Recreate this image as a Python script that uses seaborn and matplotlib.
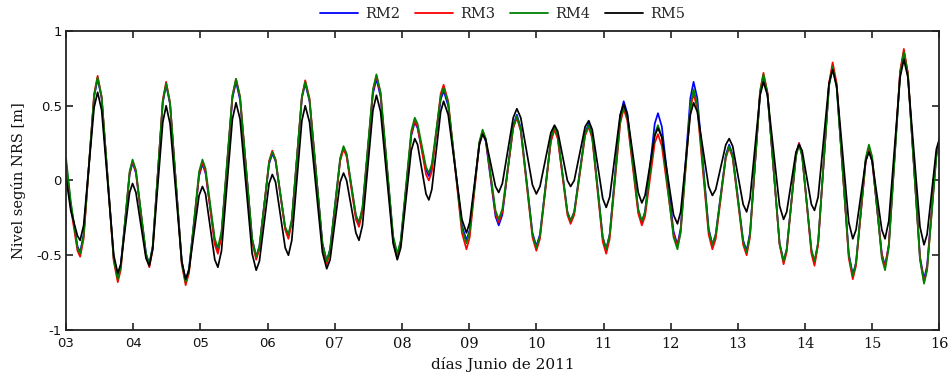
import numpy as np
import pandas as pd
import matplotlib
matplotlib.use("Agg")
import matplotlib.pyplot as plt
import seaborn as sns

# ---- data ----
dias = [
    3.00, 3.07, 3.17,
    3.21, 3.262, 3.418,
    3.47, 3.53, 3.71,
    3.77, 3.814, 3.946,
    3.99, 4.04, 4.19,
    4.24, 4.29, 4.44,
    4.49, 4.548, 4.722,
    4.78, 4.83, 4.98,
    5.03, 5.076, 5.214,
    5.26, 5.314, 5.476,
    5.53, 5.59, 5.77,
    5.83, 5.878, 6.022,
    6.07, 6.118, 6.262,
    6.31, 6.36, 6.51,
    6.56, 6.624, 6.816,
    6.88, 6.93, 7.08,
    7.13, 7.176, 7.314,
    7.36, 7.412, 7.568,
    7.62, 7.682, 7.868,
    7.93, 7.982, 8.138,
    8.19, 8.232, 8.358,
    8.40, 8.444, 8.576,
    8.62, 8.688, 8.892,
    8.96, 9.008, 9.152,
    9.20, 9.248, 9.392,
    9.44, 9.494, 9.656,
    9.71, 9.768, 9.942,
    10.00, 10.054, 10.216,
    10.27, 10.318, 10.462,
    10.51, 10.564, 10.726,
    10.78, 10.832, 10.988,
    11.04, 11.092, 11.248,
    11.30, 11.354, 11.516,
    11.57, 11.618, 11.762,
    11.81, 11.868, 12.042,
    12.10, 12.148, 12.292,
    12.34, 12.396, 12.564,
    12.62, 12.67, 12.82,
    12.87, 12.922, 13.078,
    13.13, 13.18, 13.33,
    13.38, 13.44, 13.62,
    13.68, 13.726, 13.864,
    13.91, 13.956, 14.094,
    14.14, 14.194, 14.356,
    14.41, 14.47, 14.65,
    14.71, 14.758, 14.902,
    14.95, 14.998, 15.142,
    15.19, 15.246, 15.414,
    15.47, 15.53, 15.71,
    15.77, 15.816, 15.954,
    16.00,
]

rm2 = [
    0.12, -0.16, -0.44,
    -0.48, -0.36, 0.56,
    0.68, 0.55, -0.52,
    -0.65, -0.57, 0.04,
    0.12, 0.05, -0.49,
    -0.56, -0.44, 0.52,
    0.64, 0.51, -0.54,
    -0.67, -0.59, 0.03,
    0.11, 0.05, -0.41,
    -0.47, -0.36, 0.55,
    0.66, 0.54, -0.39,
    -0.51, -0.44, 0.11,
    0.18, 0.13, -0.32,
    -0.37, -0.27, 0.55,
    0.65, 0.53, -0.42,
    -0.54, -0.46, 0.14,
    0.22, 0.17, -0.24,
    -0.29, -0.19, 0.58,
    0.68, 0.56, -0.38,
    -0.50, -0.41, 0.30,
    0.39, 0.35, 0.07,
    0.03, 0.09, 0.54,
    0.60, 0.50, -0.30,
    -0.40, -0.33, 0.25,
    0.32, 0.26, -0.24,
    -0.30, -0.23, 0.37,
    0.44, 0.35, -0.35,
    -0.44, -0.36, 0.27,
    0.35, 0.29, -0.21,
    -0.27, -0.21, 0.32,
    0.38, 0.30, -0.38,
    -0.46, -0.36, 0.43,
    0.53, 0.45, -0.20,
    -0.28, -0.21, 0.38,
    0.45, 0.36, -0.34,
    -0.43, -0.32, 0.55,
    0.66, 0.55, -0.32,
    -0.43, -0.36, 0.17,
    0.24, 0.17, -0.40,
    -0.47, -0.35, 0.58,
    0.70, 0.58, -0.42,
    -0.54, -0.46, 0.17,
    0.25, 0.17, -0.47,
    -0.55, -0.42, 0.64,
    0.77, 0.63, -0.49,
    -0.63, -0.55, 0.13,
    0.21, 0.13, -0.49,
    -0.57, -0.43, 0.72,
    0.86, 0.71, -0.51,
    -0.66, -0.57, 0.18,
    0.27,
]

rm3 = [
    0.10, -0.18, -0.47,
    -0.51, -0.39, 0.58,
    0.70, 0.56, -0.54,
    -0.68, -0.60, 0.05,
    0.13, 0.06, -0.51,
    -0.58, -0.46, 0.54,
    0.66, 0.52, -0.56,
    -0.70, -0.62, 0.04,
    0.12, 0.06, -0.43,
    -0.49, -0.37, 0.56,
    0.68, 0.56, -0.41,
    -0.53, -0.46, 0.13,
    0.20, 0.14, -0.33,
    -0.39, -0.28, 0.56,
    0.67, 0.55, -0.44,
    -0.56, -0.48, 0.13,
    0.21, 0.16, -0.26,
    -0.31, -0.21, 0.60,
    0.70, 0.58, -0.40,
    -0.52, -0.43, 0.31,
    0.40, 0.36, 0.04,
    0.00, 0.06, 0.58,
    0.64, 0.53, -0.35,
    -0.46, -0.38, 0.25,
    0.33, 0.27, -0.22,
    -0.28, -0.21, 0.35,
    0.42, 0.33, -0.38,
    -0.47, -0.39, 0.26,
    0.34, 0.28, -0.23,
    -0.29, -0.23, 0.30,
    0.36, 0.28, -0.41,
    -0.49, -0.39, 0.38,
    0.48, 0.40, -0.22,
    -0.30, -0.24, 0.25,
    0.31, 0.23, -0.36,
    -0.44, -0.34, 0.48,
    0.58, 0.48, -0.36,
    -0.46, -0.39, 0.15,
    0.22, 0.15, -0.43,
    -0.50, -0.38, 0.60,
    0.72, 0.59, -0.43,
    -0.56, -0.48, 0.17,
    0.25, 0.17, -0.49,
    -0.57, -0.43, 0.65,
    0.79, 0.65, -0.52,
    -0.66, -0.57, 0.13,
    0.22, 0.14, -0.50,
    -0.58, -0.43, 0.73,
    0.88, 0.72, -0.52,
    -0.68, -0.59, 0.18,
    0.27,
]

rm4 = [
    0.15, -0.14, -0.45,
    -0.49, -0.37, 0.57,
    0.69, 0.56, -0.53,
    -0.66, -0.58, 0.06,
    0.14, 0.07, -0.49,
    -0.56, -0.44, 0.53,
    0.65, 0.52, -0.55,
    -0.68, -0.60, 0.06,
    0.14, 0.08, -0.39,
    -0.45, -0.34, 0.57,
    0.68, 0.56, -0.39,
    -0.51, -0.44, 0.12,
    0.19, 0.14, -0.31,
    -0.36, -0.26, 0.56,
    0.66, 0.54, -0.42,
    -0.54, -0.46, 0.15,
    0.23, 0.18, -0.23,
    -0.28, -0.18, 0.61,
    0.71, 0.59, -0.37,
    -0.49, -0.40, 0.33,
    0.42, 0.38, 0.09,
    0.05, 0.11, 0.56,
    0.62, 0.52, -0.32,
    -0.42, -0.34, 0.26,
    0.34, 0.28, -0.20,
    -0.26, -0.19, 0.36,
    0.43, 0.34, -0.36,
    -0.45, -0.37, 0.28,
    0.36, 0.30, -0.21,
    -0.27, -0.21, 0.31,
    0.37, 0.29, -0.38,
    -0.46, -0.36, 0.40,
    0.50, 0.42, -0.19,
    -0.27, -0.21, 0.31,
    0.37, 0.29, -0.38,
    -0.46, -0.35, 0.50,
    0.61, 0.51, -0.33,
    -0.43, -0.36, 0.16,
    0.23, 0.16, -0.41,
    -0.48, -0.36, 0.59,
    0.71, 0.58, -0.42,
    -0.54, -0.46, 0.16,
    0.24, 0.16, -0.46,
    -0.54, -0.41, 0.63,
    0.76, 0.62, -0.50,
    -0.64, -0.55, 0.15,
    0.24, 0.16, -0.52,
    -0.60, -0.45, 0.71,
    0.86, 0.71, -0.53,
    -0.69, -0.60, 0.16,
    0.26,
]

rm5 = [
    0.02, -0.20, -0.37,
    -0.40, -0.30, 0.49,
    0.59, 0.47, -0.50,
    -0.62, -0.56, -0.08,
    -0.02, -0.08, -0.52,
    -0.57, -0.46, 0.39,
    0.50, 0.38, -0.54,
    -0.66, -0.60, -0.10,
    -0.04, -0.09, -0.53,
    -0.58, -0.47, 0.41,
    0.52, 0.41, -0.49,
    -0.60, -0.54, -0.02,
    0.04, -0.01, -0.45,
    -0.50, -0.40, 0.40,
    0.50, 0.39, -0.48,
    -0.59, -0.53, -0.01,
    0.05, 0.00, -0.35,
    -0.40, -0.30, 0.47,
    0.57, 0.46, -0.42,
    -0.53, -0.45, 0.20,
    0.28, 0.24, -0.09,
    -0.13, -0.06, 0.46,
    0.53, 0.44, -0.26,
    -0.35, -0.28, 0.24,
    0.31, 0.27, -0.04,
    -0.08, -0.02, 0.42,
    0.48, 0.42, -0.03,
    -0.09, -0.04, 0.32,
    0.37, 0.33, 0.00,
    -0.04, 0.00, 0.36,
    0.40, 0.34, -0.12,
    -0.18, -0.11, 0.44,
    0.51, 0.44, -0.08,
    -0.15, -0.10, 0.30,
    0.35, 0.29, -0.23,
    -0.29, -0.21, 0.44,
    0.52, 0.46, -0.04,
    -0.10, -0.06, 0.24,
    0.28, 0.23, -0.16,
    -0.21, -0.12, 0.57,
    0.66, 0.57, -0.17,
    -0.26, -0.21, 0.19,
    0.24, 0.20, -0.16,
    -0.20, -0.11, 0.65,
    0.74, 0.63, -0.28,
    -0.39, -0.33, 0.13,
    0.19, 0.13, -0.33,
    -0.39, -0.27, 0.69,
    0.81, 0.69, -0.31,
    -0.43, -0.36, 0.21,
    0.28,
]

series_names = ["RM2", "RM3", "RM4", "RM5"]
series_colors = ["#0000ff", "#ff0000", "#008000", "#000000"]
x_ticks = [3, 4, 5, 6, 7, 8, 9, 10, 11, 12, 13, 14, 15, 16]
x_tick_labels = ["03", "04", "05", "06", "07", "08", "09", "10", "11", "12", "13", "14", "15", "16"]
y_ticks = [-1, -0.5, 0, 0.5, 1]
y_tick_labels = ["-1", "-0.5", "0", "0.5", "1"]

# ---- build long table ----
frames = []
for name, vals in zip(series_names, [rm2, rm3, rm4, rm5]):
    frames.append(pd.DataFrame({"dia": dias, "nivel": vals, "serie": name}))
df = pd.concat(frames, ignore_index=True)

sns.set_style("ticks")
plt.rcParams["font.family"] = ["DejaVu Serif"]
plt.rcParams["xtick.direction"] = "in"
plt.rcParams["ytick.direction"] = "in"

fig = plt.figure(figsize=(9.53, 3.76), dpi=100)
ax = fig.add_axes([0.0693, 0.1223, 0.9165, 0.7953])

sns.lineplot(data=df, x="dia", y="nivel", hue="serie", hue_order=series_names,
             palette=dict(zip(series_names, series_colors)), estimator=None,
             sort=False, linewidth=1.25, ax=ax)

ax.set_xlim(3, 16)
ax.set_ylim(-1, 1)
ax.set_xticks(x_ticks)
ax.set_xticklabels(x_tick_labels)
ax.set_yticks(y_ticks)
ax.set_yticklabels(y_tick_labels)
ax.tick_params(axis="both", which="both", direction="in", top=True, right=True,
               length=5, width=1.2, colors="#222222", labelsize=10, pad=3)
ax.tick_params(axis="x", pad=5)
for lab in ax.get_yticklabels():
    lab.set_family("DejaVu Sans")
    lab.set_fontsize(9.5)
    lab.set_color("#111111")
for i, lab in enumerate(ax.get_xticklabels()):
    if i < 4:
        lab.set_family("DejaVu Sans")
        lab.set_fontsize(9.5)
    else:
        lab.set_family("DejaVu Serif")
        lab.set_fontsize(10.5)
    lab.set_color("#111111")

for sp in ax.spines.values():
    sp.set_visible(True)
    sp.set_linewidth(1.3)
    sp.set_color("#222222")

ax.set_xlabel("días Junio de 2011", fontsize=11, labelpad=4, color="#111111")
ax.set_ylabel("Nivel según NRS [m]", fontsize=10.5, labelpad=7, color="#111111")

leg = ax.legend(ncol=4, loc="lower center", bbox_to_anchor=(0.5, 1.015),
                frameon=False, handlelength=2.6, columnspacing=1.0,
                handletextpad=0.5, borderaxespad=0.0, fontsize=10.5)
for line in leg.get_lines():
    line.set_linewidth(1.3)

fig.savefig("out.png", dpi=100)
